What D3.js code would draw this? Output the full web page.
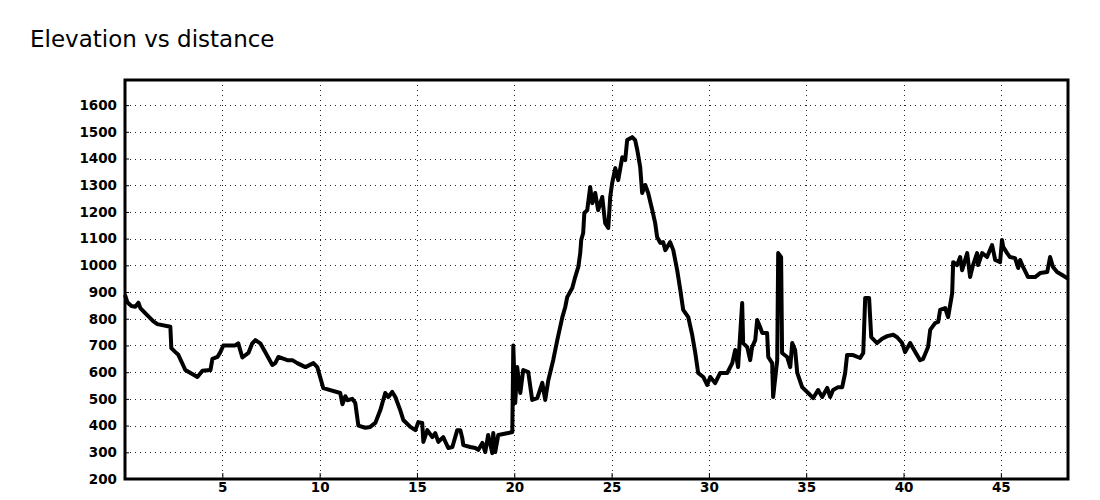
<!DOCTYPE html>
<html>
<head>
<meta charset="utf-8">
<script src="https://cdn.jsdelivr.net/npm/d3@7"></script>
<style>
  html, body { margin: 0; padding: 0; background: #fff; }
  svg { display: block; }
</style>
</head>
<body>
<div id="chart"></div>
<script>
const chartTitle = "Elevation vs distance";

// distance along route (km)
const distanceKm = [
  0.02,0.12,0.33,0.53,0.69,0.79,1.05,1.46,1.66,2.33,2.38,2.59,2.74,3.10,3.72,3.98,4.39,4.49,4.75,4.90,
  5.05,5.67,5.82,6.03,6.34,6.54,6.70,6.95,7.21,7.57,7.72,7.88,8.34,8.60,8.85,9.27,9.68,9.88,10.19,11.06,
  11.17,11.32,11.42,11.68,11.83,11.99,12.35,12.60,12.86,13.12,13.37,13.53,13.73,13.89,14.14,14.30,14.66,14.92,15.07,15.27,
  15.33,15.53,15.79,15.94,16.10,16.35,16.61,16.82,17.07,17.23,17.33,17.38,17.74,18.00,18.15,18.36,18.51,18.66,18.87,18.92,
  19.02,19.18,19.69,19.90,19.95,20.05,20.15,20.31,20.46,20.72,20.92,21.18,21.44,21.59,21.75,22.00,22.21,22.47,22.62,22.72,
  22.98,23.13,23.29,23.39,23.44,23.54,23.60,23.75,23.90,24.01,24.16,24.31,24.52,24.67,24.83,24.93,25.03,25.19,25.34,25.55,
  25.70,25.80,26.06,26.21,26.32,26.47,26.57,26.73,26.88,27.09,27.24,27.34,27.50,27.65,27.76,28.01,28.17,28.37,28.53,28.68,
  28.94,29.14,29.30,29.45,29.71,29.91,30.07,30.32,30.58,30.94,31.20,31.35,31.50,31.71,31.76,31.97,32.12,32.22,32.38,32.48,
  32.63,32.74,32.99,33.05,33.25,33.30,33.51,33.56,33.71,33.76,34.02,34.18,34.28,34.43,34.54,34.79,35.10,35.36,35.61,35.82,
  36.08,36.23,36.38,36.64,36.85,37.00,37.10,37.41,37.77,37.93,38.03,38.23,38.34,38.64,38.90,39.16,39.47,39.67,39.93,40.08,
  40.34,40.49,40.85,41.01,41.26,41.37,41.62,41.78,41.88,42.14,42.29,42.50,42.55,42.75,42.91,43.01,43.27,43.42,43.57,43.78,
  43.83,44.04,44.29,44.55,44.71,44.96,45.06,45.12,45.32,45.47,45.73,45.89,45.99,46.14,46.40,46.76,47.02,47.38,47.53,47.68,
  47.89,48.15,48.40
];

// elevation (m)
const elevationM = [
  885,862,848,845,860,840,820,790,780,770,690,675,665,608,582,605,608,650,657,675,
  700,700,708,655,672,708,720,708,675,627,634,657,645,645,634,619,634,619,540,522,
  480,510,495,500,485,400,392,395,410,458,522,507,526,507,458,421,395,383,413,410,
  339,383,357,372,339,357,316,320,383,383,353,327,320,316,309,335,301,365,297,372,
  301,365,372,376,700,485,619,522,608,600,496,503,560,496,570,645,720,806,844,881,
  915,956,994,1046,1095,1121,1196,1207,1293,1233,1271,1207,1256,1158,1140,1256,1308,1364,1319,1405,
  1394,1469,1480,1469,1432,1368,1271,1301,1271,1207,1158,1106,1084,1087,1057,1087,1057,982,908,833,
  806,740,672,597,582,552,582,559,597,597,634,683,619,859,709,694,645,694,720,795,
  769,747,747,657,634,507,645,1046,1031,672,657,619,709,683,597,544,522,503,533,507,
  541,507,533,544,544,597,664,664,653,672,878,878,731,709,725,735,740,731,709,675,
  709,690,645,650,694,758,784,788,833,840,806,896,1012,1001,1031,982,1046,956,1001,1046,
  1001,1046,1031,1076,1020,1012,1095,1069,1046,1031,1027,990,1020,994,956,956,971,975,1031,994,
  975,964,952
];

const xTickValues = [5,10,15,20,25,30,35,40,45];
const yTickValues = [200,300,400,500,600,700,800,900,1000,1100,1200,1300,1400,1500,1600];

const W = 1100, H = 500;
const plotL = 125, plotR = 1068, plotT = 80, plotB = 479;

const svg = d3.select("#chart").append("svg")
  .attr("width", W).attr("height", H);

svg.append("text")
  .attr("x", 30).attr("y", 47)
  .attr("font-family", "DejaVu Sans, sans-serif")
  .attr("font-size", 23)
  .attr("fill", "#000")
  .text(chartTitle);

const x = d3.scaleLinear().domain([0, 48.45]).range([plotL, plotR]);
const y = d3.scaleLinear().domain([200, 1694]).range([plotB, plotT]);

// grid
const grid = svg.append("g");
grid.selectAll("line.h").data(yTickValues.filter(v => v > 200)).join("line")
  .attr("class", "h")
  .attr("x1", plotL).attr("x2", plotR)
  .attr("y1", d => Math.round(y(d)) + 0.5).attr("y2", d => Math.round(y(d)) + 0.5)
  .attr("stroke", "#222").attr("stroke-width", 1).attr("stroke-dasharray", "1,4");
grid.selectAll("line.v").data(xTickValues).join("line")
  .attr("class", "v")
  .attr("y1", plotT).attr("y2", plotB)
  .attr("x1", d => Math.round(x(d)) + 0.5).attr("x2", d => Math.round(x(d)) + 0.5)
  .attr("stroke", "#222").attr("stroke-width", 1).attr("stroke-dasharray", "1,4");

// axes
const xAxis = d3.axisBottom(x).tickValues(xTickValues).tickSize(-6).tickPadding(3).tickFormat(d3.format("d"));
const gx = svg.append("g").attr("transform", `translate(0,${plotB})`).call(xAxis);
const yAxis = d3.axisLeft(y).tickValues(yTickValues).tickSize(-4).tickPadding(8).tickFormat(d3.format("d"));
const gy = svg.append("g").attr("transform", `translate(${plotL},0)`).call(yAxis);
[gx, gy].forEach(g => {
  g.select(".domain").remove();
  g.selectAll("line").attr("stroke", "#000").attr("stroke-width", 1);
  g.selectAll("text")
    .attr("font-family", "DejaVu Sans, sans-serif")
    .attr("font-weight", "bold")
    .attr("font-size", 13.5)
    .attr("fill", "#000");
});

// elevation line
const pts = distanceKm.map((d, i) => [d, elevationM[i]]);
const line = d3.line().x(d => x(d[0])).y(d => y(d[1]));
svg.append("path")
  .datum(pts)
  .attr("d", line)
  .attr("fill", "none")
  .attr("stroke", "#000")
  .attr("stroke-width", 4)
  .attr("stroke-linejoin", "round")
  .attr("stroke-linecap", "round");

// frame
svg.append("rect")
  .attr("x", plotL).attr("y", plotT)
  .attr("width", plotR - plotL).attr("height", plotB - plotT)
  .attr("fill", "none").attr("stroke", "#000").attr("stroke-width", 3);
</script>
</body>
</html>
